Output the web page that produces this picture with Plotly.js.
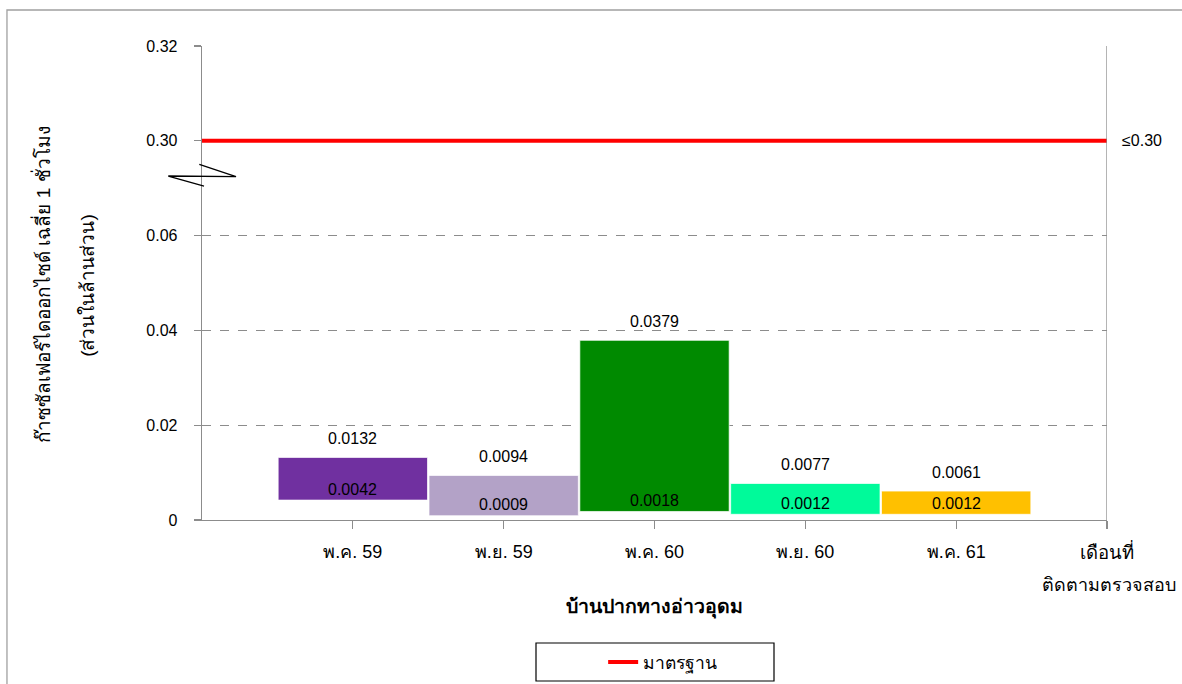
<!DOCTYPE html>
<html>
<head>
<meta charset="utf-8">
<script src="https://cdn.plot.ly/plotly-3.0.1.min.js"></script>
<style>html,body{margin:0;padding:0;background:#fff;}#chart{width:1182px;height:684px;}</style>
</head>
<body>
<div id="chart"></div>
<script>
// ---- data ----
var months = ["พ.ค. 59", "พ.ย. 59", "พ.ค. 60", "พ.ย. 60", "พ.ค. 61"];
var maxValues = [0.0132, 0.0094, 0.0379, 0.0077, 0.0061];
var minValues = [0.0042, 0.0009, 0.0018, 0.0012, 0.0012];
var barColors = ["#7030A0", "#B3A2C7", "#008A00", "#00FA9A", "#FFC000"];
var standardValue = 0.30;
var yTickValues = [0, 0.02, 0.04, 0.06, 0.30, 0.32];
var yTickLabels = ["0", "0.02", "0.04", "0.06", "0.30", "0.32"];

// broken axis: 0..0.06 linear, then 0.30..0.32 placed right after 0.06 (one tick step gap)
function mapY(v) { return v <= 0.07 ? v : 0.08 + (v - 0.30); }

var FONT = "Liberation Sans, Arial, Noto Sans, sans-serif";
var xs = months.map(function (m, i) { return i + 1; });

var traces = [{
  type: "bar",
  x: xs,
  base: minValues.map(mapY),
  y: maxValues.map(function (v, i) { return mapY(v) - mapY(minValues[i]); }),
  width: 0.99,
  marker: { color: barColors, line: { color: "rgba(255,255,255,0.7)", width: 1 } },
  showlegend: false,
  hoverinfo: "skip"
}, {
  type: "scatter",
  mode: "lines",
  x: [0, 6],
  y: [mapY(standardValue), mapY(standardValue)],
  line: { color: "#FF0000", width: 4 },
  name: "มาตรฐาน",
  showlegend: true,
  cliponaxis: false
}];

var annotations = [];
xs.forEach(function (x, i) {
  annotations.push({ x: x, y: mapY(maxValues[i]), xref: "x", yref: "y", text: maxValues[i].toFixed(4),
    showarrow: false, yanchor: "middle", yshift: 19, font: { family: FONT, size: 16, color: "#000" } });
  annotations.push({ x: x, y: mapY(minValues[i]), xref: "x", yref: "y", text: minValues[i].toFixed(4),
    showarrow: false, yanchor: "middle", yshift: 11, font: { family: FONT, size: 16, color: "#000" } });
});
annotations.push({ x: 1.0144, y: mapY(standardValue), xref: "paper", yref: "y", xanchor: "left", yanchor: "middle",
  text: "≤0.30", showarrow: false, font: { family: FONT, size: 16, color: "#000" } });
annotations.push({ x: 6, y: -0.0675, xref: "x", yref: "paper", xanchor: "center", yanchor: "middle",
  text: "เดือนที่", showarrow: false, font: { family: FONT, size: 18.5, color: "#000" } });
annotations.push({ x: 1.002, y: -0.137, xref: "paper", yref: "paper", xanchor: "center", yanchor: "middle",
  text: "ติดตามตรวจสอบ", showarrow: false, font: { family: FONT, size: 18, color: "#000" } });
annotations.push({ x: 0.5, y: -0.184, xref: "paper", yref: "paper", xanchor: "center", yanchor: "middle",
  text: "<b>บ้านปากทางอ่าวอุดม</b>", showarrow: false, font: { family: FONT, size: 19.5, color: "#000" } });
annotations.push({ x: -0.1768, y: 0.496, xref: "paper", yref: "paper", xanchor: "center", yanchor: "middle", textangle: -90,
  text: "ก๊าซซัลเฟอร์ไดออกไซด์ เฉลี่ย 1 ชั่วโมง", showarrow: false, font: { family: FONT, size: 19, color: "#000" } });
annotations.push({ x: -0.126, y: 0.496, xref: "paper", yref: "paper", xanchor: "center", yanchor: "middle", textangle: -90,
  text: "(ส่วนในล้านส่วน)", showarrow: false, font: { family: FONT, size: 19, color: "#000" } });

var shapes = [
  // right border line of plot
  { type: "line", xref: "x", yref: "paper", x0: 6, x1: 6, y0: 0, y1: 1, line: { color: "#8C8C8C", width: 1.3 } },
  // outer chart frame
  { type: "rect", xref: "paper", yref: "paper", x0: -0.2155, x1: 1.3, y0: -0.6, y1: 1.076, line: { color: "#A0A0A0", width: 1.3 }, layer: "below" },
  // legend box
  { type: "rect", xref: "paper", yref: "paper", x0: (536 - 202) / 905, x1: (774 - 202) / 905, y0: (520 - 681) / 474, y1: (520 - 643) / 474, line: { color: "#000", width: 1.2 } },
  // axis break mark
  { type: "path", xref: "paper", yref: "paper",
    path: "M -0.00298 0.7504 L 0.03757 0.7243 L -0.03724 0.7257 L 0.00221 0.7046", line: { color: "#000", width: 1.3 } }
];

var layout = {
  width: 1182, height: 684,
  margin: { l: 202, r: 75, t: 46, b: 164, autoexpand: false },
  paper_bgcolor: "#fff", plot_bgcolor: "#fff",
  font: { family: FONT, size: 16, color: "#000" },
  barmode: "overlay",
  xaxis: {
    range: [0, 6], tickmode: "array", tickvals: [1, 2, 3, 4, 5, 6], ticktext: months.concat([""]),
    ticks: "outside", ticklen: 8, tickcolor: "#8C8C8C", tickwidth: 1.3,
    showline: true, linecolor: "#8C8C8C", linewidth: 1.3, showgrid: false, zeroline: false,
    tickfont: { family: FONT, size: 18, color: "#000" }, fixedrange: true, ticklabelstandoff: 7, automargin: false
  },
  yaxis: {
    range: [0, 0.10], tickmode: "array", tickvals: yTickValues.map(mapY), ticktext: yTickLabels,
    ticks: "outside", ticklen: 7, tickcolor: "#8C8C8C", tickwidth: 1.3,
    showline: true, linecolor: "#8C8C8C", linewidth: 1.3,
    showgrid: true, gridcolor: "#8C8C8C", griddash: "dash", gridwidth: 1, zeroline: false,
    tickfont: { family: FONT, size: 16, color: "#000" }, fixedrange: true, ticklabelstandoff: 13, automargin: false
  },
  showlegend: true,
  legend: { orientation: "h", x: 0.509, xanchor: "center", y: (520 - 662) / 474, yanchor: "middle",
    bgcolor: "rgba(0,0,0,0)", borderwidth: 0, font: { family: FONT, size: 17.5, color: "#000" } },
  annotations: annotations,
  shapes: shapes
};

Plotly.newPlot("chart", traces, layout, { displayModeBar: false, staticPlot: true });
</script>
</body>
</html>
